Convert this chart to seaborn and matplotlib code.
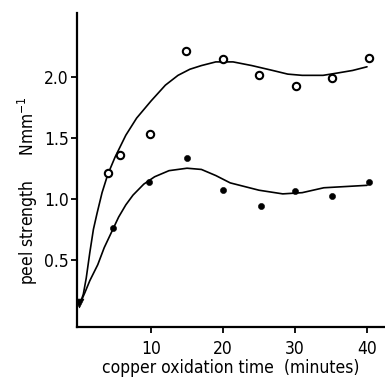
import pandas as pd
import seaborn as sns
import matplotlib.pyplot as plt

# measured points (open circles = upper series, filled dots = lower series)
time_open = [4.0, 5.7, 9.9, 14.9, 20.0, 25.0, 30.1, 35.1, 40.3]
peel_open = [1.21, 1.36, 1.53, 2.21, 2.14, 2.01, 1.92, 1.99, 2.15]
time_filled = [4.7, 9.7, 15.0, 20.0, 25.3, 30.0, 35.1, 40.3]
peel_filled = [0.76, 1.14, 1.33, 1.07, 0.94, 1.06, 1.02, 1.14]
time_start = [0.0]
peel_start = [0.15]

# hand-drawn fitted curves
curve_open_t = [0.2, 0.6, 1.0, 1.5, 2.0, 2.5, 3.2, 4.0, 5.0, 6.5, 8.0, 10.0, 12.0,
                13.75, 15.4, 17.0, 19.0, 21.4, 24.0, 26.9, 29.0, 31.0, 33.9, 36.0, 38.0, 40.0]
curve_open_v = [0.15, 0.22, 0.35, 0.56, 0.75, 0.88, 1.05, 1.20, 1.34, 1.52, 1.66, 1.80, 1.93,
                2.01, 2.06, 2.09, 2.12, 2.12, 2.09, 2.05, 2.02, 2.01, 2.01, 2.03, 2.05, 2.08]
curve_filled_t = [0.2, 0.8, 1.5, 2.6, 3.5, 4.7, 5.5, 6.5, 7.5, 9.0, 10.5, 12.5, 15.0,
                  17.0, 19.0, 21.0, 23.0, 25.0, 28.3, 31.0, 34.0, 37.0, 40.0]
curve_filled_v = [0.15, 0.23, 0.33, 0.46, 0.60, 0.75, 0.85, 0.95, 1.03, 1.12, 1.18, 1.23, 1.25,
                  1.24, 1.19, 1.13, 1.10, 1.07, 1.04, 1.05, 1.09, 1.10, 1.11]

y_ticks = [0.5, 1.0, 1.5, 2.0]
y_tick_labels = ['0.5', '1.0', '1.5', '2.0']
x_ticks = [10, 20, 30, 40]
x_tick_labels = ['10', '20', '30', '40']

sns.set_style('ticks')
plt.rcParams['font.family'] = ['DejaVu Sans']
plt.rcParams['font.stretch'] = 'condensed'
plt.rcParams['text.color'] = 'black'
plt.rcParams['axes.labelcolor'] = 'black'
plt.rcParams['xtick.color'] = 'black'
plt.rcParams['ytick.color'] = 'black'
plt.rcParams['axes.edgecolor'] = 'black'

fig = plt.figure(figsize=(3.85, 3.83), dpi=100)
ax = fig.add_axes([0.2, 0.146, 0.8, 0.82])

curves = pd.DataFrame({'t': curve_open_t, 'v': curve_open_v})
sns.lineplot(x='t', y='v', data=curves, color='black', linewidth=1.2, sort=False, ax=ax)
curves2 = pd.DataFrame({'t': curve_filled_t, 'v': curve_filled_v})
sns.lineplot(x='t', y='v', data=curves2, color='black', linewidth=1.2, sort=False, ax=ax)

sns.scatterplot(x=time_open, y=peel_open, marker='o', s=28, facecolor='white',
                edgecolor='black', linewidth=1.5, zorder=3, ax=ax)
sns.scatterplot(x=time_filled, y=peel_filled, marker='o', s=20, color='black',
                edgecolor='black', zorder=3, ax=ax)
sns.scatterplot(x=time_start, y=peel_start, marker='v', s=40, color='black',
                edgecolor='black', zorder=3, ax=ax)

ax.set_xlim(-0.28, 42.5)
ax.set_ylim(-0.05, 2.52)
ax.set_xticks(x_ticks)
ax.set_xticklabels(x_tick_labels)
ax.set_yticks(y_ticks)
ax.set_yticklabels(y_tick_labels)
ax.tick_params(direction='out', length=4, width=1.3, labelsize=12.5, pad=2)
ax.tick_params(axis='x', pad=5)
for side in ['top', 'right']:
    ax.spines[side].set_visible(False)
for side in ['left', 'bottom']:
    ax.spines[side].set_linewidth(1.6)

ax.set_xlabel('copper oxidation time  (minutes)', fontsize=12.5, labelpad=1)
ax.set_ylabel('peel strength     Nmm$^{-1}$', fontsize=12.5)
ax.yaxis.set_label_coords(-0.12, 0.436)

fig.savefig('out.png', dpi=100)
